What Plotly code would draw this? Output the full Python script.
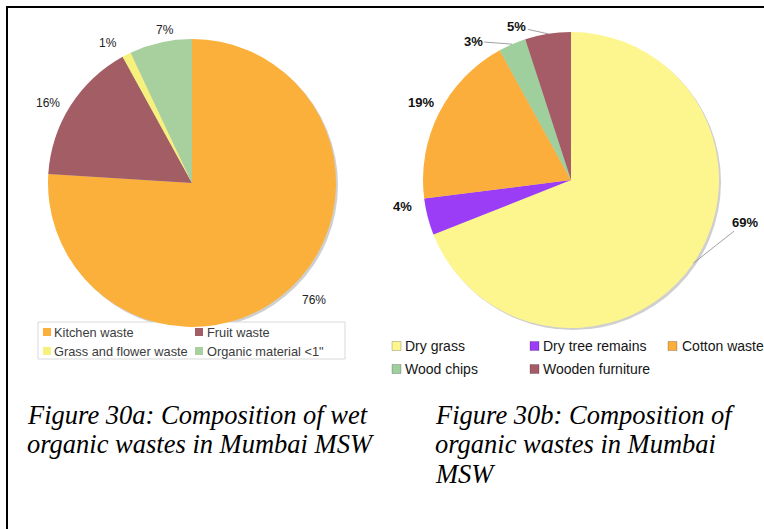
import math
import plotly.graph_objects as go

# ---- data -------------------------------------------------------------
wet_labels = ["Kitchen waste", "Fruit waste", "Grass and flower waste", "Organic material <1\""]
wet_values = [76, 16, 1, 7]
wet_colors = ["#FBB03B", "#A35D64", "#F6F07C", "#A8CF9E"]

dry_labels = ["Dry grass", "Dry tree remains", "Cotton waste", "Wood chips", "Wooden furniture"]
dry_values = [69, 4, 19, 3, 5]
dry_colors = ["#FDF68E", "#9B3DF7", "#FCAE3C", "#9ECF9D", "#A55C66"]

caption_a = ["Figure 30a: Composition of wet", "organic wastes in Mumbai MSW"]
caption_b = ["Figure 30b: Composition of", "organic wastes in Mumbai", "MSW"]

# ---- page geometry (pixels) -------------------------------------------
W, H = 764, 529
PIE_A = dict(cx=192, cy=183, r=144)
PIE_B = dict(cx=571, cy=180, r=148)

# label offsets from the rim point of each slice (px, right / down)
LABEL_OFF_A = [(23, 12), (-22, -3), (-19, -12), (4, -12)]
LEADER_A = [False, False, False, False]
LABEL_OFF_B = [(52, -41), (-25, -10), (-18, -10), (-39, -3), (-31, -7)]
LEADER_B = [True, False, False, True, True]

# legend grid: swatch left edges, text left edges, row centres
LEG_A = dict(sw_x=[43, 195], tx_x=[54, 207], rows=[332, 351], size=8, ncol=2)
LEG_B = dict(sw_x=[392, 530, 668], tx_x=[405, 543, 682], rows=[346, 369], size=9, ncol=3)

SANS = "Liberation Sans, Arial, Helvetica, sans-serif"
SERIF = "Liberation Serif, Times New Roman, serif"


def px_x(x):
    return x / W


def px_y(y):
    return 1 - y / H


def pie_domain(p):
    return dict(x=[px_x(p["cx"] - p["r"]), px_x(p["cx"] + p["r"])],
                y=[px_y(p["cy"] + p["r"]), px_y(p["cy"] - p["r"])])


def rim_points(p, values):
    """Mid-angle rim point of every slice (clockwise from 12 o'clock)."""
    total = float(sum(values))
    pts, acc = [], 0.0
    for v in values:
        theta = 2 * math.pi * (acc + v / 2) / total
        pts.append((p["cx"] + p["r"] * math.sin(theta), p["cy"] - p["r"] * math.cos(theta)))
        acc += v
    return pts


fig = go.Figure()

for p, labels, values, colors in ((PIE_A, wet_labels, wet_values, wet_colors),
                                  (PIE_B, dry_labels, dry_values, dry_colors)):
    fig.add_trace(go.Pie(
        labels=labels, values=values, sort=False, direction="clockwise", rotation=0,
        marker=dict(colors=colors, line=dict(width=0)),
        textinfo="none", domain=pie_domain(p), showlegend=False,
        hoverinfo="label+percent",
    ))

annotations = []

# percentage labels
for p, values, offs, leaders, font in (
        (PIE_A, wet_values, LABEL_OFF_A, LEADER_A, dict(family=SANS, size=12, color="#222")),
        (PIE_B, dry_values, LABEL_OFF_B, LEADER_B, dict(family=SANS, size=13, color="#111"))):
    bold = p is PIE_B
    for (rx, ry), v, (dx, dy), lead in zip(rim_points(p, values), values, offs, leaders):
        txt = f"<b>{v}%</b>" if bold else f"{v}%"
        base = dict(x=px_x(rx), y=px_y(ry), xref="paper", yref="paper", text=txt,
                    xanchor="center", yanchor="middle", font=font)
        if lead:
            annotations.append(dict(base, showarrow=True, arrowhead=0, arrowwidth=0.8,
                                    arrowcolor="#888", ax=dx, ay=dy, standoff=0))
        else:
            annotations.append(dict(base, showarrow=False, xshift=dx, yshift=-dy))

shapes = []

# legends: coloured squares with their names
for leg, labels, colors, font, edge in (
        (LEG_A, wet_labels, wet_colors, dict(family=SANS, size=12.8, color="#3c3c3c"), 0),
        (LEG_B, dry_labels, dry_colors, dict(family=SANS, size=14, color="#151515"), 0.6)):
    s = leg["size"]
    for i, (name, col) in enumerate(zip(labels, colors)):
        r, c = divmod(i, leg["ncol"])
        yc = leg["rows"][r]
        shapes.append(dict(type="rect", xref="paper", yref="paper",
                           x0=px_x(leg["sw_x"][c]), x1=px_x(leg["sw_x"][c] + s),
                           y0=px_y(yc + s / 2), y1=px_y(yc - s / 2),
                           fillcolor=col, line=dict(width=edge, color="rgba(0,0,0,0.35)")))
        annotations.append(dict(x=px_x(leg["tx_x"][c] - 2), y=px_y(yc), xref="paper", yref="paper",
                                text=name, showarrow=False, xanchor="left", yanchor="middle",
                                font=font))

# soft shadow behind each pie
for p in (PIE_A, PIE_B):
    shapes.append(dict(type="circle", xref="paper", yref="paper", layer="below",
                       x0=px_x(p["cx"] - p["r"] + 2), x1=px_x(p["cx"] + p["r"] + 2),
                       y0=px_y(p["cy"] + p["r"] + 2), y1=px_y(p["cy"] - p["r"] + 2),
                       fillcolor="#cfcfcf", line=dict(width=0)))
# frame around the left legend
shapes.append(dict(type="rect", xref="paper", yref="paper", layer="below",
                   x0=px_x(38), x1=px_x(345), y0=px_y(359), y1=px_y(322),
                   fillcolor="white", line=dict(color="#d9d9d9", width=1)))
# page border (top and left)
shapes.append(dict(type="line", xref="paper", yref="paper", x0=px_x(6), x1=1.0,
                   y0=px_y(7), y1=px_y(7), line=dict(color="black", width=2)))
shapes.append(dict(type="line", xref="paper", yref="paper", x0=px_x(7), x1=px_x(7),
                   y0=0.0, y1=px_y(6), line=dict(color="black", width=2)))

# figure captions, one annotation per line
cap_font = dict(family=SERIF, size=26.5, color="black", style="italic")
for x0, lines in ((25, caption_a), (433, caption_b)):
    for k, line in enumerate(lines):
        annotations.append(dict(x=px_x(x0), y=px_y(414.5 + 29.7 * k), xref="paper", yref="paper",
                                text=line, showarrow=False, xanchor="left", yanchor="middle",
                                font=cap_font))

fig.update_layout(
    width=W, height=H,
    margin=dict(l=0, r=0, t=0, b=0),
    paper_bgcolor="white", plot_bgcolor="white",
    shapes=shapes, annotations=annotations,
)

fig.write_html("out.html")
